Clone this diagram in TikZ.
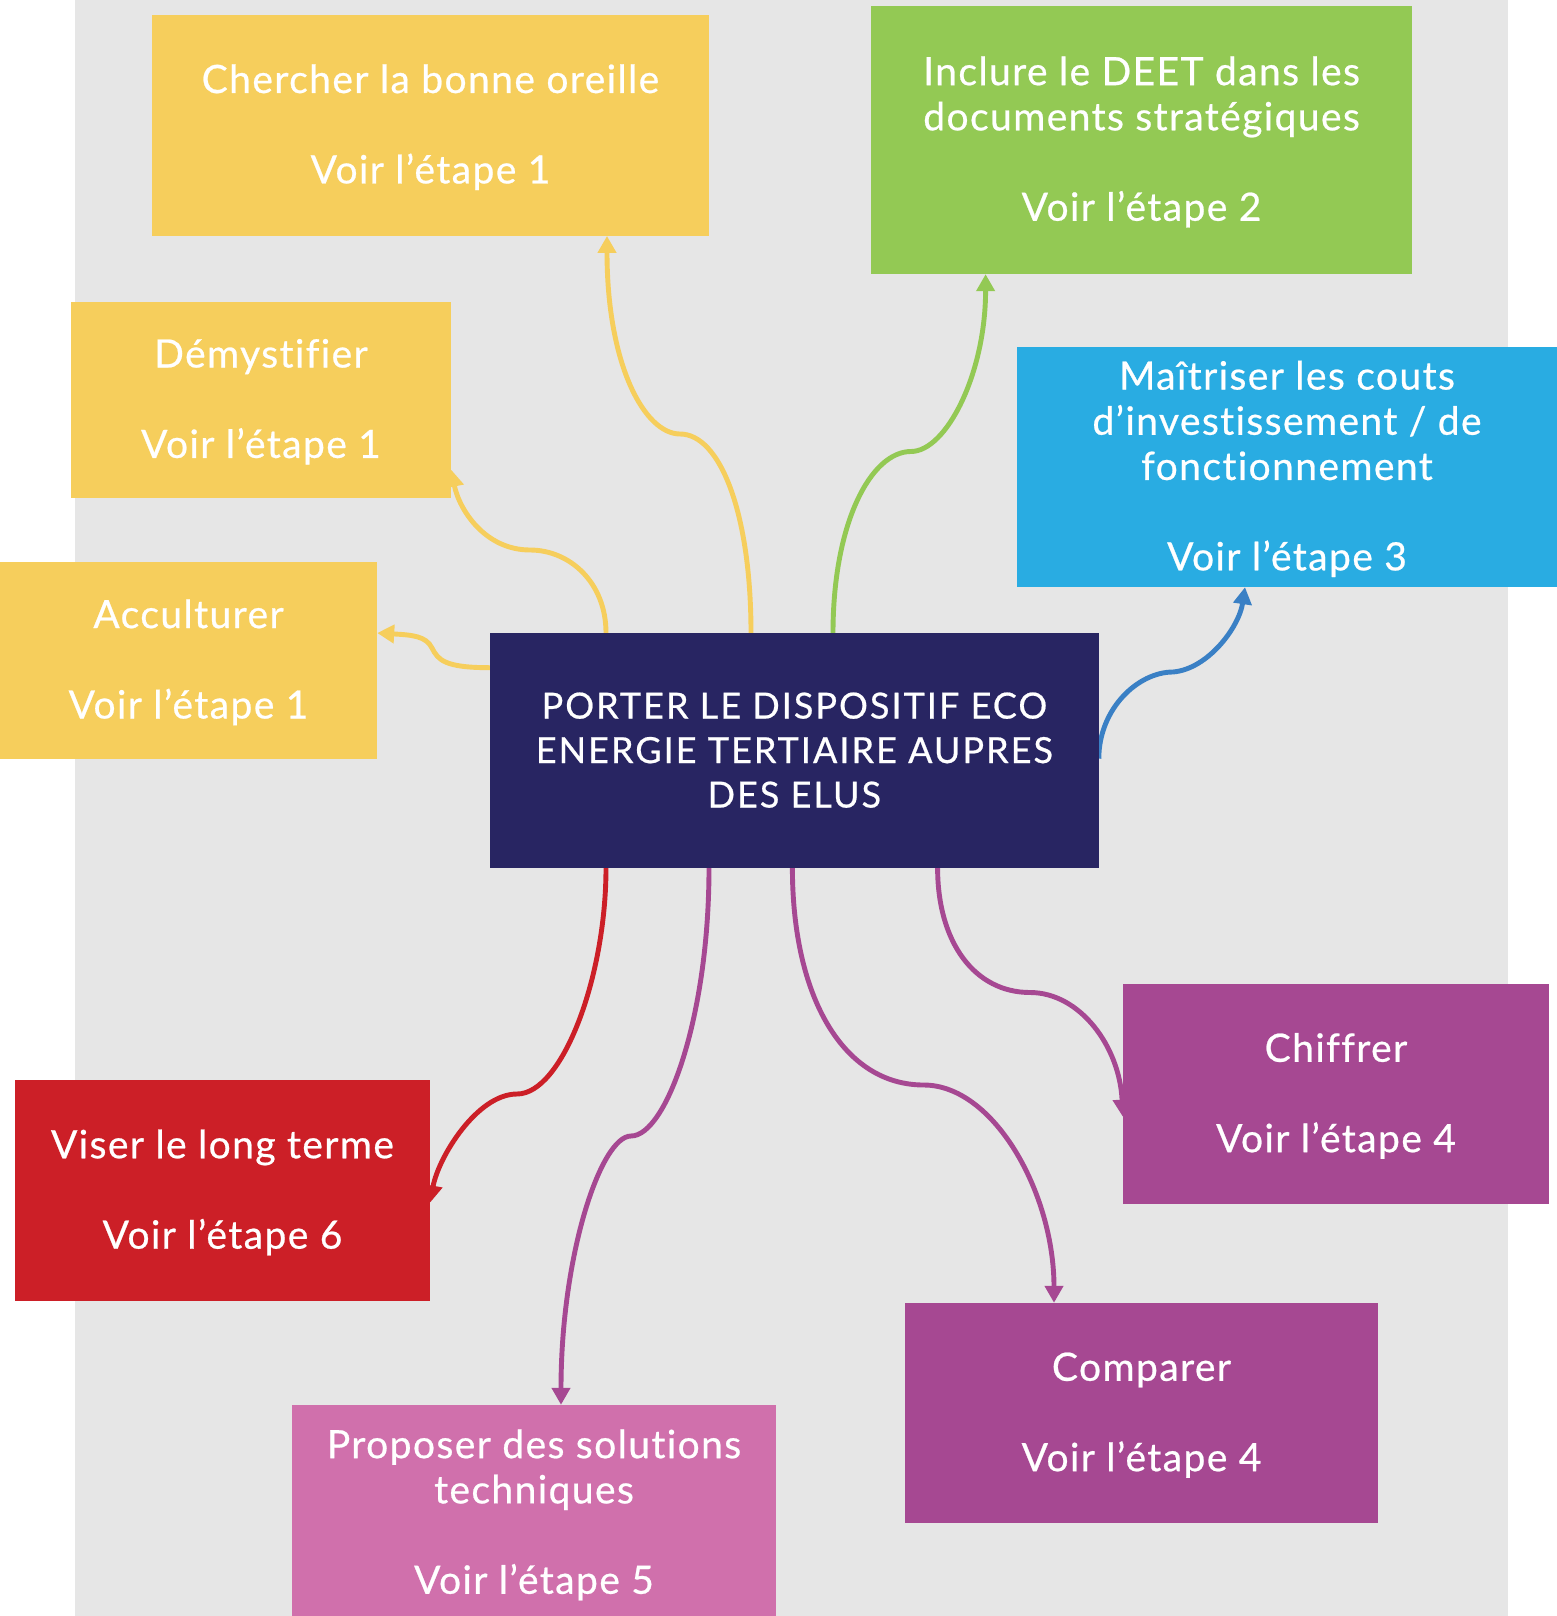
\documentclass[tikz,border=0pt]{standalone}
\usepackage{fontspec}
\setmainfont{Lato}
\newfontfamily\boxfont[LetterSpace=3.6,FakeBold=0.6,Ligatures=NoCommon]{Lato}
\newfontfamily\capfont[LetterSpace=5.6,FakeBold=0.6,Ligatures=NoCommon]{Lato}
\usetikzlibrary{arrows.meta,calc}
\definecolor{bgray}{HTML}{E6E6E6}
\definecolor{cyellow}{HTML}{F6CE5C}
\definecolor{cgreen}{HTML}{93C954}
\definecolor{clblue}{HTML}{29ACE2}
\definecolor{cnavy}{HTML}{282562}
\definecolor{cred}{HTML}{CC1F27}
\definecolor{cpink}{HTML}{D070AC}
\definecolor{cpurple}{HTML}{A64892}
\definecolor{cbarrow}{HTML}{3A80C5}
\newcommand\mytopst{\rule{0pt}{35.9pt}}
\newcommand\mycaptop{\rule{0pt}{35.4pt}}
\newcommand\mybotst{\rule[-10pt]{0pt}{10pt}}
\pgfdeclarelayer{bglayer}
\pgfdeclarelayer{arrowlayer}
\pgfsetlayers{bglayer,arrowlayer,main}
\tikzset{
  boxnode/.style={draw=none, inner sep=0pt, align=center, text=white,
    font=\boxfont\fontsize{39}{45.2}\selectfont},
  mainnode/.style={boxnode, fill=cnavy, font=\capfont\fontsize{36}{44.5}\selectfont},
  conn/.style={line width=4.9pt, -{Triangle[length=17pt,width=18pt]}},
}
\begin{document}
\begin{tikzpicture}[x=1pt,y=-1pt]
\useasboundingbox (0,0) rectangle (1557,1616);
\begin{pgfonlayer}{bglayer}
\fill[white] (0,0) rectangle (1557,1616);
\fill[bgray] (75,0) rectangle (1508,1616);
\end{pgfonlayer}

\node[mainnode, minimum width=608.6pt, minimum height=234.7pt] (center) at (794.3,750.35)
  {\mycaptop PORTER LE DISPOSITIF ECO\\ENERGIE TERTIAIRE AUPRES\\DES ELUS\mybotst};

\node[boxnode, fill=cyellow, minimum width=557pt, minimum height=221pt] (chercher) at (430.5,125.25)
  {\mytopst Chercher la bonne oreille\\[45.2pt]Voir l’étape 1\mybotst};
\node[boxnode, fill=cyellow, minimum width=380pt, minimum height=195.5pt] (demyst) at (261,399.75)
  {\mytopst Démystifier\\[45.2pt]Voir l’étape 1\mybotst};
\node[boxnode, fill=cyellow, minimum width=377pt, minimum height=196.7pt] (accult) at (188.5,660.35)
  {\mytopst Acculturer\\[45.2pt]Voir l’étape 1\mybotst};
\node[boxnode, fill=cgreen, minimum width=541pt, minimum height=268pt] (inclure) at (1141.5,140)
  {\mytopst Inclure le DEET dans les\\documents stratégiques\\[45.2pt]Voir l’étape 2\mybotst};
\node[boxnode, fill=clblue, minimum width=540pt, minimum height=240pt] (maitriser) at (1287,467)
  {\mytopst Maîtriser les couts\\d’investissement / de\\fonctionnement\\[45.2pt]Voir l’étape 3\mybotst};
\node[boxnode, fill=cred, minimum width=415pt, minimum height=221pt] (viser) at (222.5,1190.5)
  {\mytopst Viser le long terme\\[45.2pt]Voir l’étape 6\mybotst};
\node[boxnode, fill=cpink, minimum width=484pt, minimum height=216pt] (proposer) at (534,1513)
  {\mytopst Proposer des solutions\\techniques\\[45.2pt]Voir l’étape 5\mybotst};
\node[boxnode, fill=cpurple, minimum width=426pt, minimum height=220pt] (chiffrer) at (1336,1094)
  {\mytopst Chiffrer\\[45.2pt]Voir l’étape 4\mybotst};
\node[boxnode, fill=cpurple, minimum width=473pt, minimum height=220pt] (comparer) at (1141.5,1413)
  {\mytopst Comparer\\[45.2pt]Voir l’étape 4\mybotst};

\begin{pgfonlayer}{arrowlayer}
% yellow
\draw[conn, cyellow] ([xshift=-43.3pt]center.north)
  .. controls +(0,-120) and +(40,0) .. (680,434)
  .. controls +(-35,0) and +(0,130) .. ([xshift=176.5pt]chercher.south);
\draw[conn, cyellow] ([xshift=-188.3pt]center.north)
  .. controls +(0,-50) and +(40,0) .. (530,550)
  .. controls +(-45,0) and +(8,40) .. ([yshift=-70pt]demyst.east);
\draw[conn, cyellow] ([yshift=82.65pt]center.west)
  .. controls +(-45,0) and +(6,12) .. (432,648)
  .. controls +(-6,-12) and +(35,2) .. ([yshift=27.35pt]accult.east);
% green
\draw[conn, cgreen] ([xshift=38.7pt]center.north)
  .. controls +(0,-110) and +(-40,0) .. (911,451.5)
  .. controls +(35,0) and +(0,100) .. ([xshift=-155.9pt]inclure.south);
% blue
\draw[conn, cbarrow] ([yshift=-8.35pt]center.east)
  .. controls +(0,-50) and +(-35,0) .. (1173,672)
  .. controls +(35,-3) and +(-6,40) .. ([xshift=-42pt]maitriser.south);
% red
\draw[conn, cred] ([xshift=-188.3pt]center.south)
  .. controls +(0,110) and +(45,0) .. (517,1094)
  .. controls +(-40,0) and +(8,-45) .. ([yshift=-12pt]viser.east);
% purple
\draw[conn, cpurple] ([xshift=-85.3pt]center.south)
  .. controls +(0,150) and +(35,0) .. (631,1136)
  .. controls +(-30,0) and +(0,-150) .. ([xshift=27pt]proposer.north);
\draw[conn, cpurple] ([xshift=-1.9pt]center.south)
  .. controls +(0,130) and +(-80,0) .. (923.7,1085)
  .. controls +(70,0) and +(0,-110) .. ([xshift=-87.5pt]comparer.north);
\draw[conn, cpurple] ([xshift=143.3pt]center.south)
  .. controls +(0,75) and +(-55,0) .. (1030,992.5)
  .. controls +(50,0) and +(-3,-70) .. ([yshift=-22.7pt]chiffrer.west);
\end{pgfonlayer}
\end{tikzpicture}
\end{document}
